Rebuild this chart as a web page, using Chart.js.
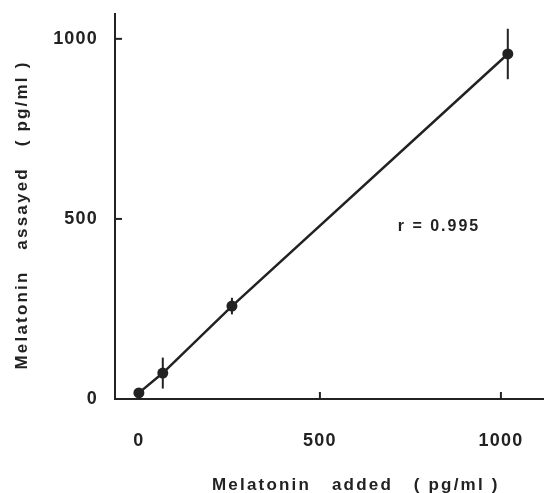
<!DOCTYPE html>
<html>
<head>
<meta charset="utf-8">
<script src="https://cdn.jsdelivr.net/npm/chart.js@4.4.1/dist/chart.umd.min.js"></script>
<style>
  html, body { margin: 0; padding: 0; background: #fff; }
  #wrap { width: 544px; height: 493px; }
</style>
</head>
<body>
<div id="wrap"><canvas id="chart" width="544" height="493"></canvas></div>
<script>
// Données
const added = [0, 66, 257, 1019];
const assayed = [17, 72, 258, 958];
const sd = [0, 43, 23, 70];
const xTicks = [0, 500, 1000];
const yTicks = [0, 500, 1000];

const ink = '#222';
const fontFamily = '"Liberation Sans", Arial, sans-serif';

// Traits de graduation vers l'intérieur, barres d'erreur, textes
const extras = {
    id: 'extras',
    beforeDraw(chart) {
        chart.ctx.letterSpacing = '1.2px';
    },
    afterDatasetsDraw(chart) {
        const ctx = chart.ctx;
        const x = chart.scales.x, y = chart.scales.y;
        ctx.save();
        ctx.strokeStyle = ink;
        ctx.lineWidth = 2;
        added.forEach((v, i) => {
            if (!sd[i]) return;
            const px = x.getPixelForValue(v);
            ctx.beginPath();
            ctx.moveTo(px, y.getPixelForValue(assayed[i] - sd[i]));
            ctx.lineTo(px, y.getPixelForValue(assayed[i] + sd[i]));
            ctx.stroke();
        });
        ctx.restore();
    },
    afterDraw(chart) {
        const ctx = chart.ctx;
        const x = chart.scales.x, y = chart.scales.y;
        const area = chart.chartArea;
        ctx.save();
        ctx.strokeStyle = ink;
        ctx.lineWidth = 2;
        xTicks.forEach(v => {
            const px = x.getPixelForValue(v);
            ctx.beginPath();
            ctx.moveTo(px, area.bottom);
            ctx.lineTo(px, area.bottom - 7);
            ctx.stroke();
        });
        yTicks.forEach(v => {
            const py = y.getPixelForValue(v);
            ctx.beginPath();
            ctx.moveTo(area.left, py);
            ctx.lineTo(area.left + 7, py);
            ctx.stroke();
        });

        ctx.fillStyle = ink;
        ctx.letterSpacing = '2.2px';
        ctx.font = 'bold 17px ' + fontFamily;
        ctx.textAlign = 'left';
        ctx.textBaseline = 'middle';
        ctx.fillText('Melatonin   added   ( pg/ml )', 212, 485);

        ctx.save();
        ctx.translate(22, 215);
        ctx.rotate(-Math.PI / 2);
        ctx.textAlign = 'center';
        ctx.fillText('Melatonin   assayed   ( pg/ml )', 0, 0);
        ctx.restore();

        ctx.font = 'bold 16px ' + fontFamily;
        ctx.letterSpacing = '2px';
        ctx.textAlign = 'left';
        ctx.fillText('r = 0.995', x.getPixelForValue(715), y.getPixelForValue(480));
        ctx.restore();
    }
};

new Chart(document.getElementById('chart'), {
    type: 'scatter',
    data: {
        datasets: [{
            data: added.map((v, i) => ({ x: v, y: assayed[i] })),
            showLine: true,
            borderColor: ink,
            borderWidth: 2.5,
            backgroundColor: ink,
            pointRadius: 5.5,
            pointBackgroundColor: ink,
            pointBorderColor: ink,
            pointBorderWidth: 0
        }]
    },
    options: {
        responsive: false,
        animation: false,
        events: [],
        layout: { autoPadding: false, padding: { top: 14, left: 0, right: 0, bottom: 0 } },
        plugins: {
            legend: { display: false },
            tooltip: { enabled: false }
        },
        scales: {
            x: {
                type: 'linear',
                min: -66,
                max: 1119,
                afterBuildTicks: s => { s.ticks = xTicks.map(v => ({ value: v })); },
                afterFit: s => { s.height = 94; s.paddingLeft = 0; s.paddingRight = 0; },
                grid: { display: false, drawTicks: false },
                border: { display: true, color: ink, width: 2 },
                ticks: {
                    color: ink,
                    padding: 31,
                    maxRotation: 0,
                    callback: v => String(v),
                    font: { family: fontFamily, size: 18, weight: 'bold' }
                }
            },
            y: {
                type: 'linear',
                min: 0,
                max: 1069,
                afterBuildTicks: s => { s.ticks = yTicks.map(v => ({ value: v })); },
                afterFit: s => { s.width = 115; s.paddingTop = 0; s.paddingBottom = 0; },
                grid: { display: false, drawTicks: false },
                border: { display: true, color: ink, width: 2 },
                ticks: {
                    color: ink,
                    padding: 17,
                    callback: v => String(v),
                    font: { family: fontFamily, size: 18, weight: 'bold' }
                }
            }
        }
    },
    plugins: [extras]
});
</script>
</body>
</html>
